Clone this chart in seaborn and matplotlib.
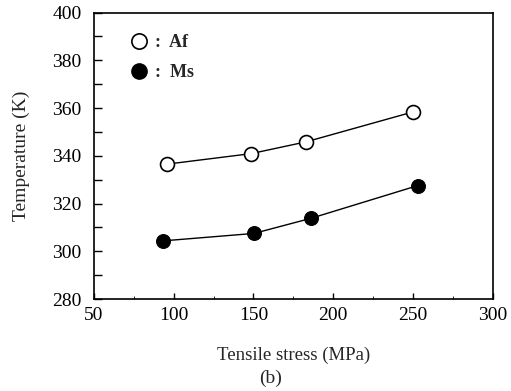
import matplotlib
matplotlib.use("Agg")
import matplotlib.pyplot as plt
from matplotlib.ticker import MultipleLocator
from matplotlib.lines import Line2D
import seaborn as sns
import pandas as pd

# Transformation temperatures vs applied tensile stress
af_stress = [95.6, 148.4, 182.7, 250.2]
af_temp = [336.5, 340.9, 345.8, 358.4]
ms_stress = [93.5, 150.3, 185.9, 252.9]
ms_temp = [304.4, 307.5, 313.8, 327.5]

x_ticks = [50, 100, 150, 200, 250, 300]
y_ticks = [280, 300, 320, 340, 360, 380, 400]

sns.set_theme(style="white")
plt.rcParams["font.family"] = ["Liberation Serif", "DejaVu Serif"]

af = pd.DataFrame({"stress": af_stress, "temp": af_temp})
ms = pd.DataFrame({"stress": ms_stress, "temp": ms_temp})

fig = plt.figure(figsize=(5.11, 3.91), dpi=100)
ax = fig.add_axes([0.184, 0.235, 0.78, 0.733])

sns.lineplot(data=af, x="stress", y="temp", ax=ax, color="black", lw=1.0,
             marker="o", markersize=10, markerfacecolor="white",
             markeredgecolor="black", markeredgewidth=1.2)
sns.lineplot(data=ms, x="stress", y="temp", ax=ax, color="black", lw=1.0,
             marker="o", markersize=10, markerfacecolor="black",
             markeredgecolor="black")

ax.set_xlim(50, 300)
ax.set_ylim(280, 400)
ax.set_xticks(x_ticks)
ax.set_yticks(y_ticks)
ax.xaxis.set_minor_locator(MultipleLocator(25))
ax.yaxis.set_minor_locator(MultipleLocator(10))
ax.tick_params(axis="both", which="both", direction="in", colors="black",
               labelsize=14, top=False, right=False, bottom=True, left=True)
ax.tick_params(axis="y", which="major", length=6, width=1, pad=9)
ax.tick_params(axis="y", which="minor", length=6, width=1)
ax.tick_params(axis="x", which="major", length=4, width=1, pad=6)
ax.tick_params(axis="x", which="minor", length=2, width=0.6)
for s in ax.spines.values():
    s.set_color("black")
    s.set_linewidth(1.2)

ax.set_xlabel("Tensile stress (MPa)", fontsize=13.5, labelpad=16)
ax.set_ylabel("Temperature (K)", fontsize=14, labelpad=16)
fig.text(0.53, 0.02, "(b)", fontsize=14, ha="center")

handles = [
    Line2D([], [], ls="none", marker="o", markersize=11, markerfacecolor="white",
           markeredgecolor="black", markeredgewidth=1.2),
    Line2D([], [], ls="none", marker="o", markersize=11, markerfacecolor="black",
           markeredgecolor="black"),
]
ax.legend(handles, [":  Af", ":  Ms"], loc="upper left", frameon=False,
          prop={"weight": "bold", "size": 13}, handletextpad=0.3,
          labelspacing=0.7, bbox_to_anchor=(0.045, 0.98), handlelength=1.2)

fig.savefig("out.png", dpi=100)
